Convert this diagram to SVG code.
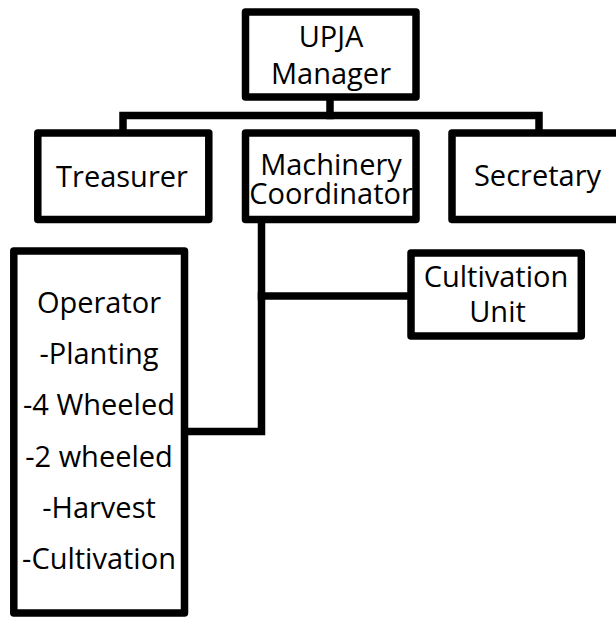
<svg xmlns="http://www.w3.org/2000/svg" width="616" height="617" viewBox="0 0 616 617">
<style>
  .box { fill: #ffffff; stroke: #000000; stroke-width: 7.5; stroke-linejoin: round; }
  .conn { fill: none; stroke: #000000; stroke-width: 7.5; stroke-linejoin: miter; stroke-linecap: square; }
  text { font-family: "Open Sans", "DejaVu Sans", sans-serif; font-size: 29px; fill: #000000; text-anchor: middle; }
</style>
<rect width="616" height="617" fill="#ffffff"/>
<g id="connectors">
  <path class="conn" d="M330,100 V115.5"/>
  <path class="conn" d="M123,129 V115.5 H539 V129"/>
  <path class="conn" d="M261.5,222 V431.5 H189"/>
  <path class="conn" d="M261.5,296 H407"/>
</g>
<g id="manager">
  <rect class="box" x="245.5" y="12" width="170.5" height="85"/>
  <text x="331" y="47">UPJA</text>
  <text x="331" y="84">Manager</text>
</g>
<g id="treasurer">
  <rect class="box" x="37.8" y="133" width="171" height="86.5"/>
  <text x="122" y="186.5">Treasurer</text>
</g>
<g id="machinery">
  <rect class="box" x="245.5" y="133" width="170.5" height="86.5"/>
  <text x="331" y="174.5">Machinery</text>
  <text x="331" y="204">Coordinator</text>
</g>
<g id="secretary">
  <rect class="box" x="452" y="133" width="175" height="86.5"/>
  <text x="537.5" y="185.5">Secretary</text>
</g>
<g id="cultivation-unit">
  <rect class="box" x="411" y="253" width="170.3" height="83"/>
  <text x="496" y="286.5">Cultivation</text>
  <text x="497.5" y="321.5">Unit</text>
</g>
<g id="operator">
  <rect class="box" x="13.8" y="251" width="170.7" height="362"/>
  <text x="99" y="312.5">Operator</text>
  <text x="99" y="363.5">-Planting</text>
  <text x="99" y="414.5">-4 Wheeled</text>
  <text x="99" y="466.5">-2 wheeled</text>
  <text x="99" y="517.5">-Harvest</text>
  <text x="99" y="569">-Cultivation</text>
</g>
</svg>
